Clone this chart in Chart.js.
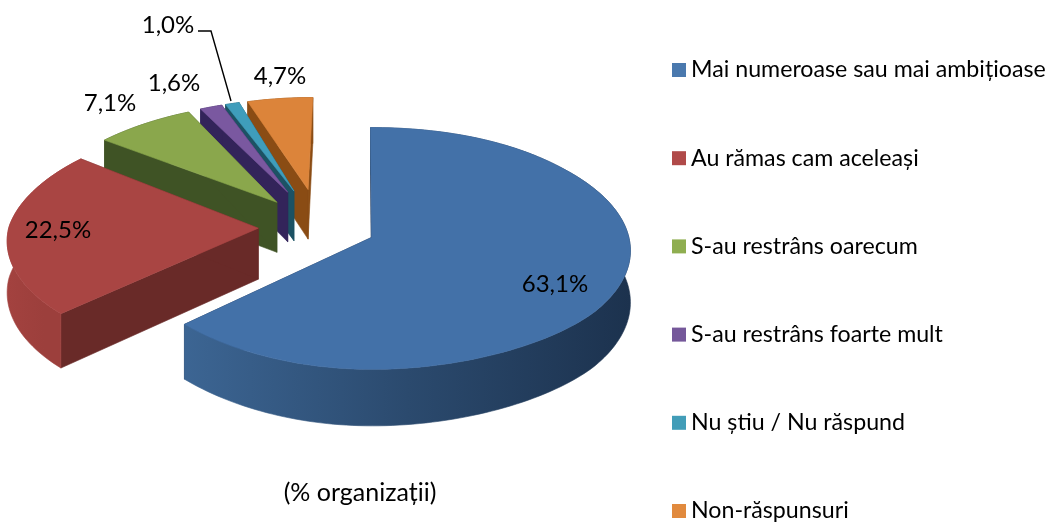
<!DOCTYPE html>
<html><head><meta charset="utf-8">
<style>html,body{margin:0;padding:0;background:#fff}canvas{display:block}</style>
<script src="https://cdn.jsdelivr.net/npm/chart.js@4/dist/chart.umd.min.js"></script>
</head><body><div style="width:1050px;height:524px"><canvas id="c" width="1050" height="524"></canvas></div>
<script>
const categories = ["Mai numeroase sau mai ambițioase","Au rămas cam aceleași","S-au restrâns oarecum","S-au restrâns foarte mult","Nu știu / Nu răspund","Non-răspunsuri"];
const values = [63.1,22.5,7.1,1.6,1.0,4.7];
const topColors = ["#4371a8","#a94543","#8aa74c","#7a58a0","#3f9dbb","#dc843a"];
const legendColors = ["#4a79ae","#b04a49","#8fae50","#75589a","#429db8","#e18a3e"];
const wallColors = ["#1f3350","#692a28","#3f5325","#33245a","#1c5264","#8a4c14"];
const rimColors = [["#3c6593","#2b4a6e","#1c324e"],["#a3423f","#9c3f3c","#9c3f3c"],["#3f5325","#3f5325","#3f5325"],["#33245a","#33245a","#33245a"],["#1c5264","#1c5264","#1c5264"],["#8a4c14","#8a4c14","#8a4c14"]];
const apexPull = [1,1.1,1.25,1.5,1.5,1.5];
const caption = "(% organizații)";
const labelSpots = [[555,284],[58,230],[110,103],[174,83],[168,25],[280,76]];

const SX=255, SY=118, K=0.09, KX=0.12, DEPTH=51;
const FAM='Lato, "Open Sans", sans-serif';

const pie3d = {
  id:'pie3d',
  beforeDatasetsDraw(chart){
    const ctx=chart.ctx, meta=chart.getDatasetMeta(0);
    const poly=(pts,fill)=>{ctx.beginPath();pts.forEach((p,i)=>i?ctx.lineTo(p[0],p[1]):ctx.moveTo(p[0],p[1]));ctx.closePath();ctx.fillStyle=fill;ctx.fill();ctx.strokeStyle=fill;ctx.lineWidth=0.6;ctx.stroke();};
    [5,4,3,2,1,0].forEach(i=>{
      const el=meta.data[i], R=el.outerRadius, e=el.options.offset/R;
      const proj=(X,V,d)=>{
        const w=1-K*V;
        const wx = i===0 ? 1-K*V*Math.max(0,Math.min(1,X)) : (V<0 ? 1-KX*V : w);
        return [el.x+SX*X/wx, el.y+SY*V/w+(d?DEPTH/w:0)];
      };
      const mid=(el.startAngle+el.endAngle)/2;
      const ax=e*Math.cos(mid), av=e*Math.sin(mid);
      const rim=[]; const n=Math.max(8,Math.ceil((el.endAngle-el.startAngle)*40));
      for(let s=0;s<=n;s++){const a=el.startAngle+(el.endAngle-el.startAngle)*s/n;rim.push([ax+Math.cos(a),av+Math.sin(a)]);}
      const T=rim.map(p=>proj(p[0],p[1],false)), B=rim.map(p=>proj(p[0],p[1],true));
      const at=proj(ax*apexPull[i],av*apexPull[i],false), ab=proj(ax*apexPull[i],av*apexPull[i],true);
      poly([at,T[0],B[0],ab],wallColors[i]);
      poly([at,T[n],B[n],ab],wallColors[i]);
      const xs=B.map(p=>p[0]), x0=Math.min(...xs), x1=Math.max(...xs);
      const g=ctx.createLinearGradient(x0,0,x1,0);
      g.addColorStop(0,rimColors[i][0]);g.addColorStop(0.5,rimColors[i][1]);g.addColorStop(1,rimColors[i][2]);
      poly(T.concat(B.slice().reverse()),g);
      poly([at].concat(T),topColors[i]);
    });
    return false;
  },
  afterDraw(chart){
    const ctx=chart.ctx;
    ctx.save();
    ctx.font='24px '+FAM;ctx.fillStyle='#000';ctx.textBaseline='middle';ctx.textAlign='center';
    values.forEach((v,i)=>ctx.fillText(v.toFixed(1).replace('.',',')+'%',labelSpots[i][0],labelSpots[i][1]));
    ctx.strokeStyle='#000';ctx.lineWidth=1.4;ctx.beginPath();ctx.moveTo(198,31);ctx.lineTo(211,31);ctx.lineTo(231,101);ctx.stroke();
    ctx.font='25px '+FAM;
    ctx.fillText(caption,360,493);
    ctx.font='23.2px '+FAM;
    ctx.textAlign='left';
    categories.forEach((c,i)=>{
      const y=70+88.2*i;
      ctx.fillStyle=legendColors[i];ctx.fillRect(672,y-7,14,14);
      ctx.fillStyle='#000';ctx.fillText(c,691,y);
    });
    ctx.restore();
  }
};

new Chart(document.getElementById('c'),{
  type:'pie',
  data:{labels:categories,datasets:[{data:values,backgroundColor:topColors,borderWidth:0,offset:45}]},
  options:{responsive:false,animation:false,
    layout:{padding:{left:0,right:410,top:0,bottom:70}},
    plugins:{legend:{display:false},tooltip:{enabled:false}},
    events:[]},
  plugins:[pie3d]
});
</script></body></html>
